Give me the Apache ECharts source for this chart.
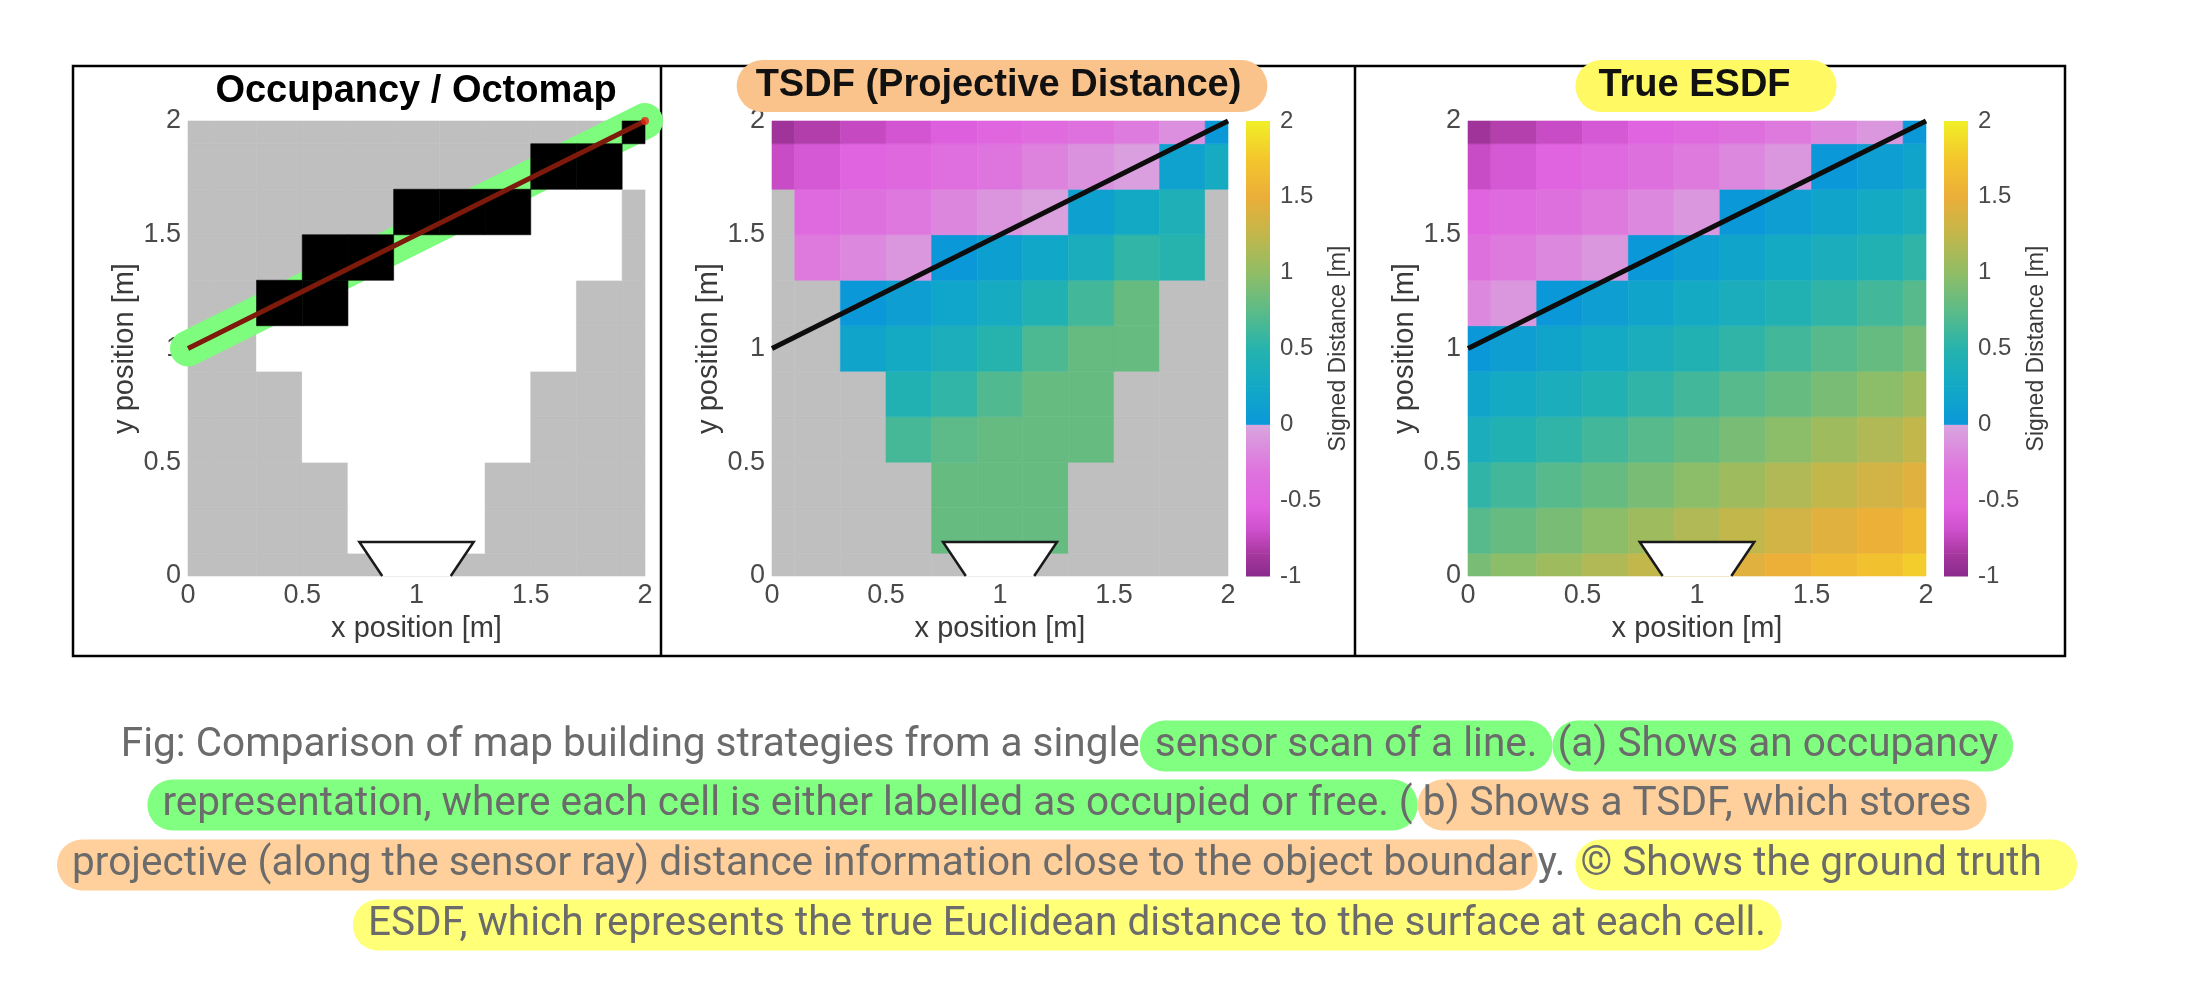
<!DOCTYPE html>
<html>
<head>
<meta charset="utf-8">
<script src="https://cdn.jsdelivr.net/npm/echarts@6/dist/echarts.min.js"></script>
<style>
  html, body { margin: 0; padding: 0; background: #fff; }
  #chart { width: 2188px; height: 1000px; }
</style>
</head>
<body>
<div id="chart"></div>
<script>
// cell centres, same for x and y (0.2 m grid)
const cellCenters = [0, 0.2, 0.4, 0.6, 0.8, 1.0, 1.2, 1.4, 1.6, 1.8, 2.0];

// occupancy rows from y = 0 (bottom) to y = 2 (top): 0 unknown, 1 free, 2 occupied
const occupancy = [
  [0, 0, 0, 0, 0, 0, 0, 0, 0, 0, 0],
  [0, 0, 0, 0, 1, 1, 1, 0, 0, 0, 0],
  [0, 0, 0, 0, 1, 1, 1, 0, 0, 0, 0],
  [0, 0, 0, 1, 1, 1, 1, 1, 0, 0, 0],
  [0, 0, 0, 1, 1, 1, 1, 1, 0, 0, 0],
  [0, 0, 1, 1, 1, 1, 1, 1, 1, 0, 0],
  [0, 0, 2, 2, 1, 1, 1, 1, 1, 0, 0],
  [0, 0, 0, 2, 2, 1, 1, 1, 1, 1, 0],
  [0, 0, 0, 0, 0, 2, 2, 2, 1, 1, 0],
  [0, 0, 0, 0, 0, 0, 0, 0, 2, 2, 1],
  [0, 0, 0, 0, 0, 0, 0, 0, 0, 0, 2]
];

// TSDF rows, bottom to top, null = not observed
const tsdf = [
  [null, null, null, null, null, null, null, null, null, null, null],
  [null, null, null, null, 0.8, 0.8, 0.8, null, null, null, null],
  [null, null, null, null, 0.8, 0.8, 0.8, null, null, null, null],
  [null, null, null, 0.65, 0.75, 0.8, 0.8, 0.8, null, null, null],
  [null, null, null, 0.45, 0.55, 0.7, 0.8, 0.8, null, null, null],
  [null, null, 0.18, 0.27, 0.37, 0.5, 0.68, 0.8, 0.8, null, null],
  [null, null, 0.0, 0.09, 0.19, 0.3, 0.44, 0.63, 0.8, null, null],
  [null, -0.27, -0.18, -0.09, 0.0, 0.1, 0.22, 0.36, 0.55, 0.5, null],
  [null, -0.45, -0.36, -0.28, -0.19, -0.1, -0.03, 0.12, 0.26, 0.4, null],
  [-0.72, -0.63, -0.54, -0.46, -0.38, -0.3, -0.21, -0.12, -0.04, 0.14, 0.3],
  [-0.89, -0.81, -0.73, -0.65, -0.57, -0.5, -0.42, -0.34, -0.25, -0.14, 0.0]
];

// ESDF rows, bottom to top
const esdf = [
  [0.89, 0.98, 1.07, 1.16, 1.25, 1.34, 1.43, 1.52, 1.61, 1.70, 1.79],
  [0.72, 0.80, 0.89, 0.98, 1.07, 1.16, 1.25, 1.34, 1.43, 1.52, 1.61],
  [0.54, 0.63, 0.72, 0.80, 0.89, 0.98, 1.07, 1.16, 1.25, 1.34, 1.43],
  [0.36, 0.45, 0.54, 0.63, 0.72, 0.80, 0.89, 0.98, 1.07, 1.16, 1.25],
  [0.18, 0.27, 0.36, 0.45, 0.54, 0.63, 0.72, 0.80, 0.89, 0.98, 1.07],
  [0.0, 0.09, 0.18, 0.27, 0.36, 0.45, 0.54, 0.63, 0.72, 0.80, 0.89],
  [-0.18, -0.09, 0.0, 0.09, 0.18, 0.27, 0.36, 0.45, 0.54, 0.63, 0.72],
  [-0.36, -0.27, -0.18, -0.09, 0.0, 0.09, 0.18, 0.27, 0.36, 0.45, 0.54],
  [-0.54, -0.45, -0.36, -0.27, -0.18, -0.09, 0.0, 0.09, 0.18, 0.27, 0.36],
  [-0.72, -0.63, -0.54, -0.45, -0.36, -0.27, -0.18, -0.09, 0.0, 0.09, 0.18],
  [-0.89, -0.80, -0.72, -0.63, -0.54, -0.45, -0.36, -0.27, -0.18, -0.09, 0.0]
];

const surfaceLine = [[0, 1], [2, 2]];
const sensorOutline = [[0.85, 0], [0.75, 0.15], [1.25, 0.15], [1.15, 0]];

// colour map: negative and positive halves
const negStops = [-1, -0.85, -0.7, -0.55, -0.3, 0];
const negColors = ['#8a2a8c', '#a8389f', '#cc4fcb', '#e062e0', '#de74de', '#d9a6de'];
const posStops = [0, 0.25, 0.5, 0.75, 1, 1.25, 1.5, 1.75, 2];
const posColors = ['#0b98d8', '#12a9c6', '#26b3ad', '#5cbb88', '#90bd66', '#c2b74b', '#ebae39', '#f4c62d', '#f0ef26'];
const occColors = ['#bfbfbf', '#ffffff', '#000000'];
const unknownColor = '#bfbfbf';

const FONT = 'Liberation Sans';

function sdfColor(v) {
  const stops = v < 0 ? negStops : posStops;
  const colors = v < 0 ? negColors : posColors;
  if (v <= stops[0]) return colors[0];
  for (let k = 1; k < stops.length; k++) {
    if (v <= stops[k]) {
      const t = (v - stops[k - 1]) / (stops[k] - stops[k - 1]);
      return echarts.color.lerp(t, [colors[k - 1], colors[k]]);
    }
  }
  return colors[colors.length - 1];
}

// [x, y, value, known]
function toCells(rows) {
  const out = [];
  rows.forEach((row, j) => row.forEach((v, i) => {
    out.push([cellCenters[i], cellCenters[j], v == null ? 0 : v, v == null ? 0 : 1]);
  }));
  return out;
}

// colorOf returns null to skip a cell
function cellRenderer(colorOf) {
  return function (params, api) {
    const c = colorOf(api.value(2), api.value(3));
    if (!c) return;
    const x = api.value(0), y = api.value(1);
    const p0 = api.coord([x - 0.1, y + 0.1]);
    const p1 = api.coord([x + 0.1, y - 0.1]);
    const cs = params.coordSys;
    const rect = echarts.graphic.clipRectByRect(
      { x: p0[0], y: p0[1], width: p1[0] - p0[0], height: p1[1] - p0[1] },
      { x: cs.x, y: cs.y, width: cs.width, height: cs.height });
    if (!rect) return;
    return { type: 'rect', shape: rect, style: { fill: c, stroke: c, lineWidth: 0.6 } };
  };
}

function sensorSeries(g) {
  return {
    type: 'custom', xAxisIndex: g, yAxisIndex: g, data: [[1, 0]], z: 4,
    renderItem: function (params, api) {
      const pts = sensorOutline.map(p => api.coord(p));
      return {
        type: 'group', children: [
          { type: 'polygon', shape: { points: pts }, style: { fill: '#fff' } },
          { type: 'polyline', shape: { points: pts }, style: { fill: null, stroke: '#1a1a1a', lineWidth: 2.5 } }
        ]
      };
    }
  };
}

function plotX(g) {
  return {
    type: 'value', gridIndex: g, min: 0, max: 2, interval: 0.5,
    name: 'x position [m]', nameLocation: 'middle', nameGap: 38,
    nameTextStyle: { fontSize: 29, color: '#3a3a3a', fontFamily: FONT },
    axisLine: { show: false }, axisTick: { show: false }, splitLine: { show: false },
    axisLabel: { fontSize: 27, color: '#4a4a4a', margin: 6, fontFamily: FONT }
  };
}
function plotY(g) {
  return {
    type: 'value', gridIndex: g, min: 0, max: 2, interval: 0.5,
    name: 'y position [m]', nameLocation: 'middle', nameGap: 47, nameRotate: 90,
    nameTextStyle: { fontSize: 29, color: '#3a3a3a', fontFamily: FONT },
    axisLine: { show: false }, axisTick: { show: false }, splitLine: { show: false },
    axisLabel: { fontSize: 27, color: '#4a4a4a', margin: 7, fontFamily: FONT }
  };
}
function cbarY(g) {
  return {
    type: 'value', gridIndex: g, position: 'right', min: -1, max: 2, interval: 0.5,
    name: 'Signed Distance [m]', nameLocation: 'middle', nameGap: 57, nameRotate: 90,
    nameTextStyle: { fontSize: 23, color: '#3a3a3a', fontFamily: FONT },
    axisLine: { show: false }, axisTick: { show: false }, splitLine: { show: false },
    axisLabel: { fontSize: 24, color: '#4a4a4a', margin: 10, fontFamily: FONT }
  };
}

// colour bar segments built from the colour map stops
const cbarSegs = [];
for (let k = 1; k < negStops.length; k++) cbarSegs.push([negStops[k - 1], negStops[k], negColors[k - 1], negColors[k]]);
for (let k = 1; k < posStops.length; k++) cbarSegs.push([posStops[k - 1], posStops[k], posColors[k - 1], posColors[k]]);

function cbarSeries(g) {
  return {
    type: 'custom', xAxisIndex: g, yAxisIndex: g,
    data: cbarSegs.map((s, k) => [0.5, s[0], s[1], k]),
    encode: { x: 0, y: [1, 2] },
    renderItem: function (params, api) {
      const s = cbarSegs[api.value(3)];
      const p0 = api.coord([0, api.value(2)]);
      const p1 = api.coord([1, api.value(1)]);
      return {
        type: 'rect',
        shape: { x: p0[0], y: p0[1], width: p1[0] - p0[0], height: p1[1] - p0[1] + 0.5 },
        style: {
          fill: new echarts.graphic.LinearGradient(0, 1, 0, 0, [
            { offset: 0, color: s[2] }, { offset: 1, color: s[3] }
          ])
        }
      };
    }
  };
}

function blackLine(g) {
  return {
    type: 'line', xAxisIndex: g, yAxisIndex: g, data: surfaceLine, symbol: 'none', z: 5,
    lineStyle: { color: '#0d0d0d', width: 5 }
  };
}

const capFont = { fontSize: 40.5, fontFamily: 'Roboto', lineHeight: 46 };
const capRich = {
  p: Object.assign({ color: '#6b6b6b' }, capFont),
  g: Object.assign({ color: '#3d6a3d', backgroundColor: '#80ff80', borderRadius: 25, padding: [5, 5] }, capFont),
  o: Object.assign({ color: '#6b5642', backgroundColor: '#ffcf9c', borderRadius: 25, padding: [5, 5] }, capFont),
  y: Object.assign({ color: '#6b6a35', backgroundColor: '#ffff78', borderRadius: 25, padding: [5, 5] }, capFont)
};
const captionLines = [
  '{p|Fig: Comparison of map building strategies from a single}{g| sensor scan of a line. }{g|(a) Shows an occupancy }',
  '{g| representation, where each cell is either labelled as occupied or free. (}{o|b) Shows a TSDF, which stores }',
  '{o| projective (along the sensor ray) distance information close to the object boundar}{p|y. }{y|© Shows the ground truth   }',
  '{y| ESDF, which represents the true Euclidean distance to the surface at each cell. }'
];
const captionY = [746, 805, 865, 925];

const chart = echarts.init(document.getElementById('chart'));
chart.setOption({
  animation: false,
  backgroundColor: '#ffffff',
  grid: [
    { left: 188, top: 121, width: 457, height: 455 },
    { left: 772, top: 121, width: 456, height: 455 },
    { left: 1468, top: 121, width: 458, height: 455 },
    { left: 1246, top: 121, width: 24, height: 455 },
    { left: 1944, top: 121, width: 24, height: 455 }
  ],
  xAxis: [plotX(0), plotX(1), plotX(2),
    { type: 'value', gridIndex: 3, min: 0, max: 1, show: false },
    { type: 'value', gridIndex: 4, min: 0, max: 1, show: false }],
  yAxis: [plotY(0), plotY(1), plotY(2), cbarY(3), cbarY(4)],
  series: [
    // (a) occupancy: unknown + free cells, highlighter band, then occupied cells on top
    {
      type: 'custom', xAxisIndex: 0, yAxisIndex: 0, data: toCells(occupancy), encode: { x: 0, y: 1 },
      renderItem: cellRenderer(v => v < 2 ? occColors[v] : null)
    },
    {
      type: 'custom', xAxisIndex: 0, yAxisIndex: 0, z: 2,
      data: [surfaceLine[0].concat(surfaceLine[1])],
      renderItem: function (params, api) {
        const a = api.coord([api.value(0), api.value(1)]);
        const b = api.coord([api.value(2), api.value(3)]);
        return {
          type: 'line', shape: { x1: a[0], y1: a[1], x2: b[0], y2: b[1] },
          style: { stroke: '#7dfc7d', lineWidth: 36, lineCap: 'round' }
        };
      }
    },
    {
      type: 'custom', xAxisIndex: 0, yAxisIndex: 0, data: toCells(occupancy), encode: { x: 0, y: 1 }, z: 3,
      renderItem: cellRenderer(v => v === 2 ? occColors[v] : null)
    },
    sensorSeries(0),
    {
      type: 'line', xAxisIndex: 0, yAxisIndex: 0, data: surfaceLine, symbol: 'none', z: 5,
      lineStyle: { color: '#7d1a0c', width: 5 }
    },
    {
      type: 'scatter', xAxisIndex: 0, yAxisIndex: 0, data: [surfaceLine[1]], symbolSize: 8, z: 6,
      itemStyle: { color: '#e3261b' }
    },
    // (b) TSDF
    {
      type: 'custom', xAxisIndex: 1, yAxisIndex: 1, data: toCells(tsdf), encode: { x: 0, y: 1 },
      renderItem: cellRenderer((v, known) => known ? sdfColor(v) : unknownColor)
    },
    sensorSeries(1),
    blackLine(1),
    // (c) ESDF
    {
      type: 'custom', xAxisIndex: 2, yAxisIndex: 2, data: toCells(esdf), encode: { x: 0, y: 1 },
      renderItem: cellRenderer(v => sdfColor(v))
    },
    sensorSeries(2),
    blackLine(2),
    cbarSeries(3),
    cbarSeries(4)
  ],
  graphic: [
    { type: 'rect', z: 1, shape: { x: 73, y: 66, width: 1992, height: 590 }, style: { fill: null, stroke: '#000', lineWidth: 2.5 } },
    { type: 'line', z: 1, shape: { x1: 661, y1: 66, x2: 661, y2: 656 }, style: { stroke: '#000', lineWidth: 2.5 } },
    { type: 'line', z: 1, shape: { x1: 1355, y1: 66, x2: 1355, y2: 656 }, style: { stroke: '#000', lineWidth: 2.5 } },
    {
      type: 'text', z: 10, x: 416, y: 92,
      style: { text: 'Occupancy / Octomap', fontSize: 38, fontWeight: 'bold', fontFamily: FONT, fill: '#000', align: 'center', verticalAlign: 'middle' }
    },
    {
      type: 'text', z: 10, x: 1002, y: 86,
      style: {
        text: 'TSDF (Projective Distance)', fontSize: 38, fontWeight: 'bold', fontFamily: FONT, fill: '#111',
        align: 'center', verticalAlign: 'middle', lineHeight: 40,
        backgroundColor: '#fac38c', borderRadius: 26, padding: [6, 26, 6, 19]
      }
    },
    {
      type: 'text', z: 10, x: 1706, y: 86,
      style: {
        text: 'True ESDF', fontSize: 38, fontWeight: 'bold', fontFamily: FONT, fill: '#111',
        align: 'center', verticalAlign: 'middle', lineHeight: 40,
        backgroundColor: '#fff964', borderRadius: 26, padding: [6, 46, 6, 23]
      }
    }
  ].concat(captionLines.map((t, k) => ({
    type: 'text', z: 10, x: 1067, y: captionY[k],
    style: Object.assign({ text: t, rich: capRich, align: 'center', verticalAlign: 'middle', fill: '#6b6b6b' }, capFont)
  })))
});
</script>
</body>
</html>
